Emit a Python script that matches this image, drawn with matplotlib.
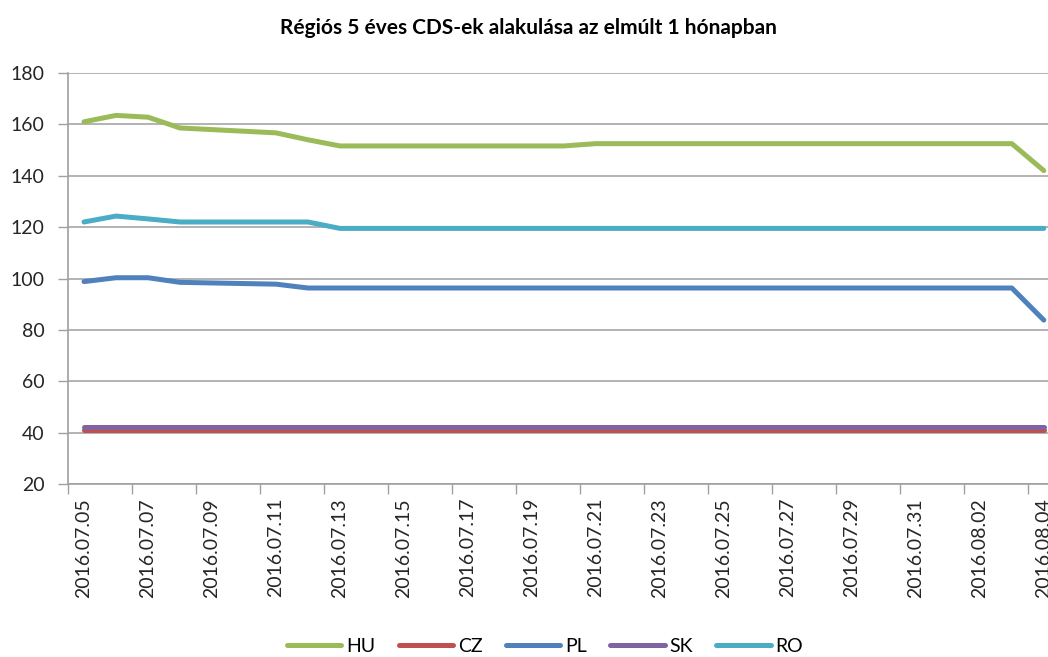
import numpy as np
import matplotlib
matplotlib.use('Agg')
import matplotlib.pyplot as plt

plt.rcParams['font.family'] = ['Lato', 'DejaVu Sans']

# munkanapok (hétvégék nélkül)
dates = ['2016.07.05', '2016.07.06', '2016.07.07', '2016.07.08',
         '2016.07.11', '2016.07.12', '2016.07.13', '2016.07.14', '2016.07.15',
         '2016.07.18', '2016.07.19', '2016.07.20', '2016.07.21', '2016.07.22',
         '2016.07.25', '2016.07.26', '2016.07.27', '2016.07.28', '2016.07.29',
         '2016.08.01', '2016.08.02', '2016.08.03', '2016.08.04']

hu = [161.0, 163.5, 162.8, 158.6, 156.7, 154.0, 151.6, 151.6, 151.6,
      151.6, 151.6, 151.6, 152.5, 152.5, 152.5, 152.5, 152.5, 152.5, 152.5,
      152.5, 152.5, 152.5, 142.0]
cz = [41.0] * 23
pl = [98.8, 100.3, 100.3, 98.5, 97.8, 96.3, 96.3, 96.3, 96.3,
      96.3, 96.3, 96.3, 96.3, 96.3, 96.3, 96.3, 96.3, 96.3, 96.3,
      96.3, 96.3, 96.3, 83.8]
sk = [42.0] * 23
ro = [122.0, 124.3, 123.2, 122.0, 122.0, 122.0, 119.5, 119.5, 119.5,
      119.5, 119.5, 119.5, 119.5, 119.5, 119.5, 119.5, 119.5, 119.5, 119.5,
      119.5, 119.5, 119.5, 119.5]

series = [('HU', hu, '#9BBB59'), ('CZ', cz, '#C0504D'), ('PL', pl, '#4F81BD'),
          ('SK', sk, '#8064A2'), ('RO', ro, '#4BACC6')]

# napok száma az első dátumtól
d64 = np.array([np.datetime64(s.replace('.', '-')) for s in dates])
x = (d64 - d64[0]).astype(int)
ndays = int(x[-1])

fig = plt.figure(figsize=(10.48, 6.57), dpi=100)
ax = fig.add_axes([68 / 1048, 1 - 484 / 657, 995 / 1048, 411 / 657])

for name, vals, col in series:
    ax.plot(x, vals, color=col, lw=3.6, label=name, solid_capstyle='round',
            solid_joinstyle='round')

ax.set_ylim(20, 180)
ax.set_yticks(range(20, 181, 20))
ax.set_xlim(-0.5, 30.6)

lab_pos = np.arange(0, ndays + 1, 2)
lab_txt = [str(d64[0] + np.timedelta64(int(i), 'D')).replace('-', '.') for i in lab_pos]
ax.set_xticks(lab_pos)
ax.set_xticklabels(lab_txt, rotation=90, va='top', ha='center')
ax.set_xticks(np.arange(-0.5, ndays + 1, 2), minor=True)
ax.tick_params(axis='x', which='major', length=0, pad=10, labelsize=14, colors='#262626')
ax.tick_params(axis='x', which='minor', length=7, direction='out', color='#A0A0A0', width=1)
ax.tick_params(axis='y', length=7, direction='out', color='#A0A0A0', width=1,
               labelsize=14, pad=10, labelcolor='#262626')

ax.grid(axis='y', color='#A6A6A6', lw=1.2)
ax.set_axisbelow(True)
for s in ['top', 'right']:
    ax.spines[s].set_visible(False)
for s in ['left', 'bottom']:
    ax.spines[s].set_color('#A0A0A0')
    ax.spines[s].set_linewidth(1.2)

fig.text(528 / 1048, 1 - 28 / 657, 'Régiós 5 éves CDS-ek alakulása az elmúlt 1 hónapban',
         ha='center', va='center', fontsize=15, fontweight='bold')

fig.legend(loc='center', bbox_to_anchor=(545 / 1048, 1 - 646 / 657), ncol=5, frameon=False,
           fontsize=14, handlelength=2.8, columnspacing=1.2, handletextpad=0.25,
           borderpad=0, borderaxespad=0)

fig.savefig('out.png', dpi=100)
